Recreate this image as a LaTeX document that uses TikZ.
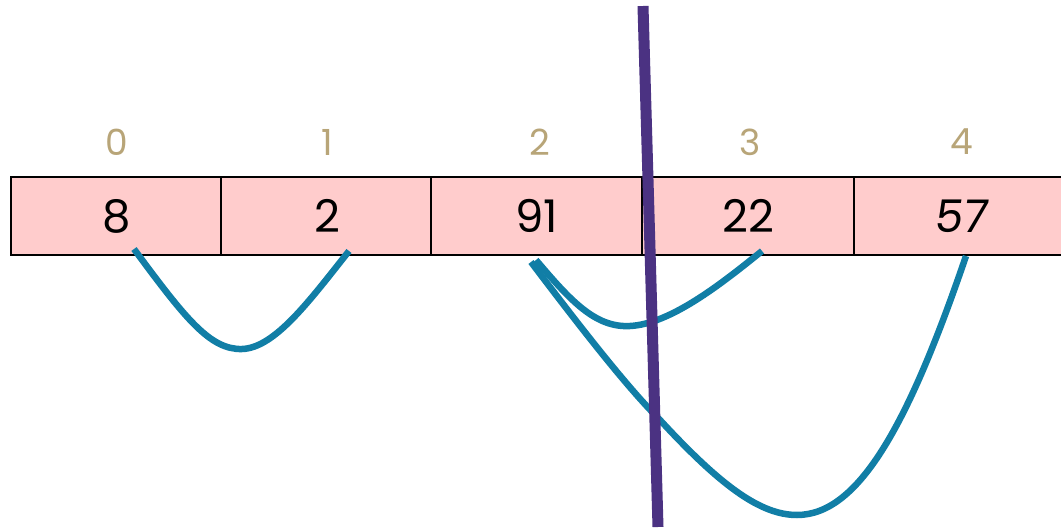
\documentclass[tikz,border=0pt]{standalone}
\usepackage{fontspec}
\setmainfont{Poppins}
\newfontfamily\slantfont[FakeSlant=0.15]{Poppins}
\definecolor{cellpink}{RGB}{255,204,204}
\definecolor{idxtan}{RGB}{184,165,120}
\definecolor{arcteal}{RGB}{17,126,166}
\definecolor{cutpurple}{RGB}{75,50,130}
\tikzset{
  cell/.style={draw=black, line width=2pt, fill=cellpink, minimum width=212pt, minimum height=78pt, inner sep=0pt, font=\fontsize{45}{52}\selectfont, text=black, anchor=center},
  idx/.style={font=\fontsize{36}{42}\selectfont, text=idxtan, anchor=center},
  arc/.style={draw=arcteal, line width=6.5pt},
  cut/.style={draw=cutpurple, line width=11pt}
}
\begin{document}
\begin{tikzpicture}[x=1pt,y=-1pt]
\useasboundingbox (0,0) rectangle (1061,530);
\fill[white] (0,0) rectangle (1061,530);
\node[cell] (c0) at (117,216) {8};
\node[cell] (c1) at (327,216) {2};
\node[cell] (c2) at (537,216) {91};
\node[cell] (c3) at (748,216) {22};
\node[cell] (c4) at (960,216) {\slantfont 57};
\node[idx] (i0) at (117,142) {0};
\node[idx] (i1) at (327,142) {1};
\node[idx] (i2) at (540,142) {2};
\node[idx] (i3) at (750,142) {3};
\node[idx] (i4) at (962,142) {4};
\coordinate (a0) at (134,249);
\coordinate (a1) at (349,251);
\coordinate (b0) at (536,260);
\coordinate (b1) at (762,251);
\coordinate (d0) at (531,262);
\coordinate (d1) at (966,256);
\draw[arc] (a0) .. controls (185,318) and (210,350) .. (242,349) .. controls (275,348) and (310,300) .. (a1);
\draw[arc] (b0) .. controls (570,300) and (595,328) .. (630,326) .. controls (670,324) and (720,285) .. (b1);
\draw[arc] (d0) .. controls (590,340) and (630,390) .. (660,420) .. controls (720,485) and (760,515) .. (797,515) .. controls (860,515) and (910,420) .. (d1);
\coordinate (t0) at (643,6);
\coordinate (t1) at (658,527);
\draw[cut] (t0) -- (t1);
\end{tikzpicture}
\end{document}
